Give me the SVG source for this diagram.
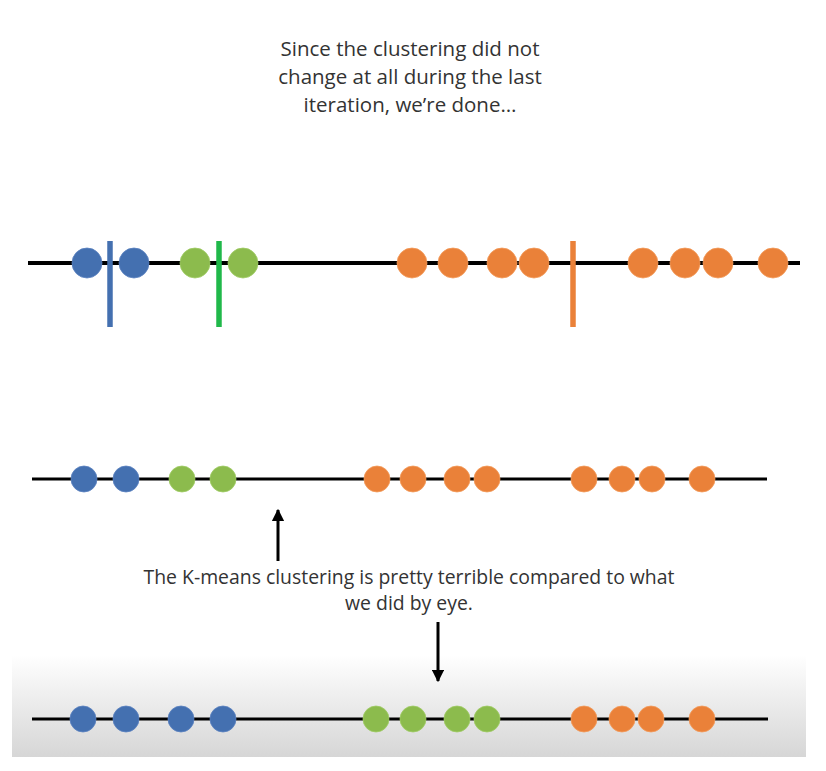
<svg xmlns="http://www.w3.org/2000/svg" width="826" height="771" viewBox="0 0 826 771">
<defs>
<linearGradient id="panel" x1="0" y1="0" x2="0" y2="1">
<stop offset="0" stop-color="#ffffff"/>
<stop offset="1" stop-color="#d6d6d6"/>
</linearGradient>
<marker id="ah" viewBox="0 0 10 10" refX="9" refY="5" markerWidth="4.2" markerHeight="4.2" orient="auto" markerUnits="strokeWidth">
<path d="M0,0 L10,5 L0,10 z" fill="#000"/>
</marker>
<style>
.txt{font-family:"Open Sans","Liberation Sans",sans-serif;fill:#333;text-anchor:middle}
.t1{font-size:20.5px}
.t2{font-size:19.4px}
.axis{stroke:#000;fill:none}
.b{fill:#4470b0;stroke:#5a82c0;stroke-width:0.8}
.g{fill:#8cbb4d;stroke:#9fcb65;stroke-width:0.8}
.o{fill:#ea8139;stroke:#f29a5a;stroke-width:0.8}
.arrow{stroke:#000;stroke-width:3;fill:none;marker-end:url(#ah)}
</style>
</defs>
<rect width="826" height="771" fill="#fff"/>
<rect x="12" y="655" width="794" height="102" fill="url(#panel)"/>

<g id="title">
<text class="txt t1" x="410" y="56">Since the clustering did not</text>
<text class="txt t1" x="410" y="84">change at all during the last</text>
<text class="txt t1" x="410" y="112">iteration, we’re done…</text>
</g>

<g id="row1">
<line class="axis" x1="28" y1="263" x2="800" y2="263" stroke-width="4"/>
<circle class="b" cx="87" cy="263" r="15"/>
<circle class="b" cx="134" cy="263" r="15"/>
<circle class="g" cx="195" cy="263" r="15"/>
<circle class="g" cx="243" cy="263" r="15"/>
<circle class="o" cx="412" cy="263" r="15"/>
<circle class="o" cx="453" cy="263" r="15"/>
<circle class="o" cx="502" cy="263" r="15"/>
<circle class="o" cx="534" cy="263" r="15"/>
<circle class="o" cx="643" cy="263" r="15"/>
<circle class="o" cx="685" cy="263" r="15"/>
<circle class="o" cx="718" cy="263" r="15"/>
<circle class="o" cx="773" cy="263" r="15"/>
<line x1="110" y1="241" x2="110" y2="327" stroke="#4470b0" stroke-width="5.5"/>
<line x1="219" y1="241" x2="219" y2="327" stroke="#20b84a" stroke-width="5.5"/>
<line x1="573" y1="241" x2="573" y2="327" stroke="#ea8139" stroke-width="5.5"/>
</g>

<g id="row2">
<line class="axis" x1="32" y1="479" x2="767" y2="479" stroke-width="3"/>
<circle class="b" cx="84" cy="479" r="13"/>
<circle class="b" cx="126" cy="479" r="13"/>
<circle class="g" cx="182" cy="479" r="13"/>
<circle class="g" cx="223" cy="479" r="13"/>
<circle class="o" cx="377" cy="479" r="13"/>
<circle class="o" cx="413" cy="479" r="13"/>
<circle class="o" cx="457" cy="479" r="13"/>
<circle class="o" cx="487" cy="479" r="13"/>
<circle class="o" cx="584" cy="479" r="13"/>
<circle class="o" cx="622" cy="479" r="13"/>
<circle class="o" cx="652" cy="479" r="13"/>
<circle class="o" cx="702" cy="479" r="13"/>
</g>

<g id="row3">
<line class="axis" x1="32" y1="719" x2="768" y2="719" stroke-width="3"/>
<circle class="b" cx="83" cy="719" r="13"/>
<circle class="b" cx="126" cy="719" r="13"/>
<circle class="b" cx="181" cy="719" r="13"/>
<circle class="b" cx="223" cy="719" r="13"/>
<circle class="g" cx="376" cy="719" r="13"/>
<circle class="g" cx="413" cy="719" r="13"/>
<circle class="g" cx="457" cy="719" r="13"/>
<circle class="g" cx="487" cy="719" r="13"/>
<circle class="o" cx="584" cy="719" r="13"/>
<circle class="o" cx="622" cy="719" r="13"/>
<circle class="o" cx="651" cy="719" r="13"/>
<circle class="o" cx="702" cy="719" r="13"/>
</g>

<g id="note">
<text class="txt t2" x="409" y="584">The K-means clustering is pretty terrible compared to what</text>
<text class="txt t2" x="409" y="610">we did by eye.</text>
</g>

<g id="connectors">
<line class="arrow" x1="278" y1="561" x2="278" y2="510"/>
<line class="arrow" x1="438" y1="622" x2="438" y2="681"/>
</g>
</svg>
